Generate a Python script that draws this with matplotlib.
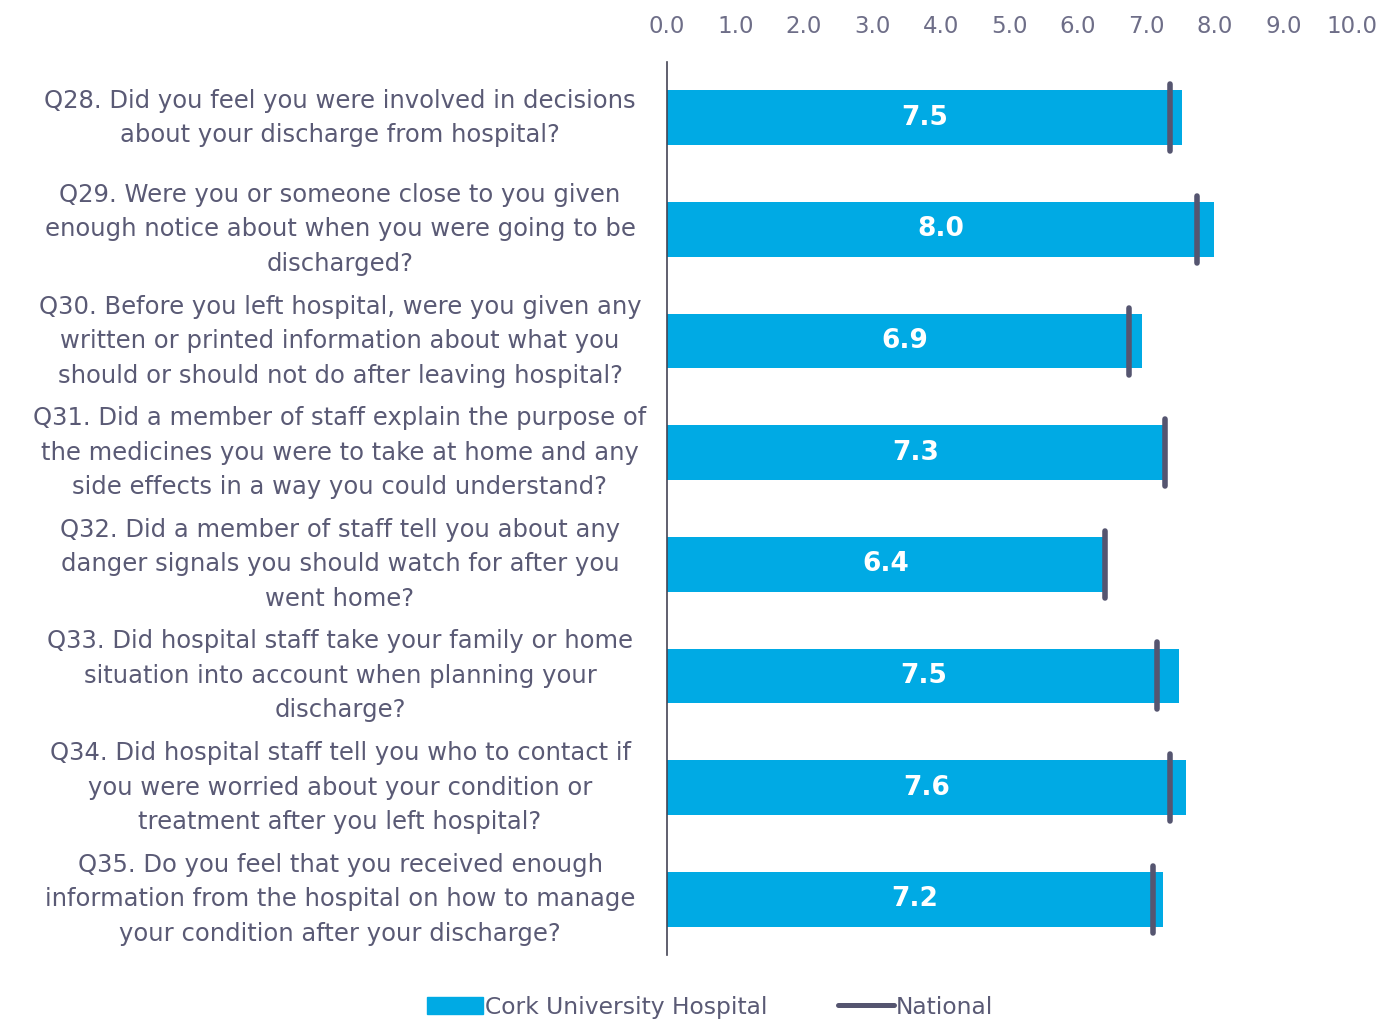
import matplotlib
matplotlib.use("Agg")
import matplotlib.pyplot as plt
from matplotlib.patches import Patch
from matplotlib.lines import Line2D
from matplotlib.transforms import blended_transform_factory

questions = [
    "Q28. Did you feel you were involved in decisions\nabout your discharge from hospital?",
    "Q29. Were you or someone close to you given\nenough notice about when you were going to be\ndischarged?",
    "Q30. Before you left hospital, were you given any\nwritten or printed information about what you\nshould or should not do after leaving hospital?",
    "Q31. Did a member of staff explain the purpose of\nthe medicines you were to take at home and any\nside effects in a way you could understand?",
    "Q32. Did a member of staff tell you about any\ndanger signals you should watch for after you\nwent home?",
    "Q33. Did hospital staff take your family or home\nsituation into account when planning your\ndischarge?",
    "Q34. Did hospital staff tell you who to contact if\nyou were worried about your condition or\ntreatment after you left hospital?",
    "Q35. Do you feel that you received enough\ninformation from the hospital on how to manage\nyour condition after your discharge?",
]
hospital = [7.52, 7.99, 6.94, 7.26, 6.40, 7.48, 7.58, 7.24]
national = [7.34, 7.74, 6.74, 7.27, 6.39, 7.15, 7.34, 7.09]
xticks = [0, 1, 2, 3, 4, 5, 6, 7, 8, 9, 10]

BLUE = "#00AAE4"
DARK = "#555570"
TXT = "#5A5A75"

fig = plt.figure(figsize=(13.83, 10.21), dpi=100)
ax = fig.add_axes([667/1383, 1-955/1021, (1352-667)/1383, (955-62)/1021])

y = list(range(len(questions)))
ax.barh(y, hospital, height=0.49, color=BLUE, zorder=2)
for yi, h in zip(y, hospital):
    ax.text(h/2, yi, f"{h:.1f}", ha="center", va="center", color="white",
            fontsize=19, fontweight="bold", zorder=4)
for yi, n in zip(y, national):
    ax.plot([n, n], [yi-0.3, yi+0.3], color=DARK, lw=4,
            solid_capstyle="round", zorder=3)

ax.set_xlim(0, 10)
ax.set_ylim(len(questions)-0.5, -0.5)
ax.set_xticks(xticks)
ax.set_xticklabels([f"{t:.1f}" for t in xticks])
ax.xaxis.tick_top()
ax.tick_params(axis="x", length=0, pad=17, labelsize=16.5, labelcolor="#6E6E88")
ax.set_yticks([])
tr = blended_transform_factory(ax.transAxes, ax.transData)
for yi, q in zip(y, questions):
    ax.text((340-667)/685, yi, q, transform=tr, ha="center", va="center",
            multialignment="center", fontsize=17.5, color=TXT, linespacing=1.55)
for s in ["top", "right", "bottom"]:
    ax.spines[s].set_visible(False)
ax.spines["left"].set_color("#444455")
ax.spines["left"].set_linewidth(1.2)

handles = [Patch(color=BLUE, label="Cork University Hospital"),
           Line2D([0], [0], color=DARK, lw=3.6, solid_capstyle="round", label="National")]
leg = fig.legend(handles=handles, loc="center", bbox_to_anchor=(710/1383, 1-1007/1021),
                 ncol=2, frameon=False, fontsize=16.8, handlelength=2.4,
                 handletextpad=0.1, columnspacing=3.0, labelcolor=TXT)

fig.savefig("out.png", dpi=100)
